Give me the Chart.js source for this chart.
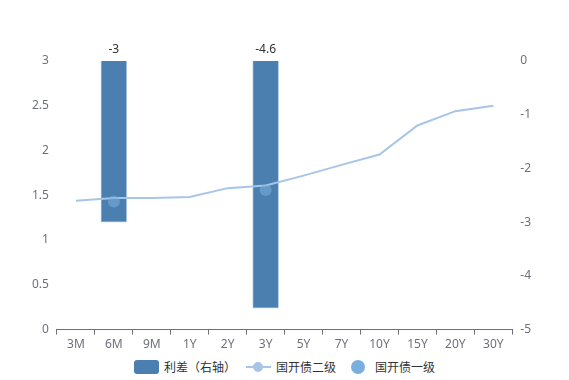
<!DOCTYPE html>
<html>
<head>
<meta charset="utf-8">
<script src="https://cdn.jsdelivr.net/npm/chart.js@4"></script>
<style>
  body { margin: 0; background: #fff; font-family: "Noto Sans CJK SC", "Noto Sans", sans-serif; }
  #wrap { position: relative; width: 569px; height: 380px; }
  #legend { position: absolute; top: 358px; left: 0; width: 569px; display: flex; justify-content: center; align-items: center; font-size: 12px; color: #333; }
  .item { display: flex; align-items: center; margin: 0 5px; }
  .item span.t { margin-left: 5px; }
</style>
</head>
<body>
<div id="wrap">
  <canvas id="c" width="569" height="355"></canvas>
  <div id="legend"></div>
</div>
<script>
const categories = ["3M", "6M", "9M", "1Y", "2Y", "3Y", "5Y", "7Y", "10Y", "15Y", "20Y", "30Y"];
const spread = [null, -3, null, null, null, -4.6, null, null, null, null, null, null];
const cdbSecondary = [1.44, 1.47, 1.47, 1.48, 1.58, 1.61, 1.72, 1.84, 1.955, 2.28, 2.44, 2.50];
const cdbPrimary = [null, 1.43, null, null, null, 1.56, null, null, null, null, null, null];

const barColor = "#4a7fb0";
const lineColor = "#a8c5e8";
const dotColor = "#7aaedf";

const barLabels = {
  id: "barLabels",
  afterDatasetsDraw(chart) {
    const ctx = chart.ctx;
    const meta = chart.getDatasetMeta(2);
    ctx.save();
    ctx.font = '12px "Noto Sans", sans-serif';
    ctx.fillStyle = "#333";
    ctx.textAlign = "center";
    ctx.textBaseline = "bottom";
    meta.data.forEach((el, i) => {
      const v = spread[i];
      if (v === null) return;
      const top = Math.min(el.y, el.base);
      ctx.fillText(String(v), el.x, top - 5);
    });
    ctx.restore();
  }
};

const tickFont = { size: 12, family: '"Noto Sans", sans-serif' };

new Chart(document.getElementById("c").getContext("2d"), {
  data: {
    labels: categories,
    datasets: [
      {
        type: "line",
        label: "国开债一级",
        data: cdbPrimary,
        showLine: false,
        pointRadius: 6,
        pointBackgroundColor: "rgba(122,174,223,0.55)",
        pointBorderWidth: 0,
        yAxisID: "y",
        order: 0
      },
      {
        type: "line",
        label: "国开债二级",
        data: cdbSecondary,
        borderColor: lineColor,
        borderWidth: 2,
        pointRadius: 0,
        tension: 0,
        yAxisID: "y",
        order: 1
      },
      {
        type: "bar",
        label: "利差（右轴）",
        data: spread,
        backgroundColor: barColor,
        borderColor: "#b9cde3",
        borderWidth: 1,
        barThickness: 26,
        skipNull: true,
        yAxisID: "y1",
        order: 2
      }
    ]
  },
  options: {
    responsive: false,
    animation: false,
    layout: { padding: { top: 61, right: 30, left: 24, bottom: 0 } },
    plugins: { legend: { display: false }, tooltip: { enabled: false } },
    scales: {
      x: {
        offset: true,
        grid: { offset: true, drawOnChartArea: false, drawTicks: true, tickLength: 5, color: "#6e7079" },
        border: { color: "#6e7079" },
        ticks: { color: "#6e7079", font: tickFont, padding: 3, maxRotation: 0, autoSkip: false }
      },
      y: {
        position: "left",
        min: 0,
        max: 3,
        grid: { display: false, drawTicks: false },
        border: { display: false },
        ticks: { stepSize: 0.5, color: "#6e7079", font: tickFont, padding: 8, callback: v => String(v) }
      },
      y1: {
        position: "right",
        min: -5,
        max: 0,
        grid: { display: false, drawTicks: false },
        border: { display: false },
        ticks: { stepSize: 1, color: "#6e7079", font: tickFont, padding: 8, callback: v => String(v) }
      }
    }
  },
  plugins: [barLabels]
});

const legend = document.getElementById("legend");
legend.innerHTML =
  '<div class="item"><span style="display:inline-block;width:25px;height:14px;border-radius:3px;background:' + barColor + '"></span><span class="t">利差（右轴）</span></div>' +
  '<div class="item"><span style="position:relative;display:inline-block;width:25px;height:14px;">' +
    '<span style="position:absolute;left:0;top:6px;width:25px;height:2px;background:' + lineColor + '"></span>' +
    '<span style="position:absolute;left:7px;top:2px;width:10px;height:10px;border-radius:50%;background:' + lineColor + '"></span></span><span class="t">国开债二级</span></div>' +
  '<div class="item"><span style="display:inline-block;width:14px;height:14px;border-radius:50%;background:' + dotColor + ';margin:0 5px"></span><span class="t">国开债一级</span></div>';
</script>
</body>
</html>
